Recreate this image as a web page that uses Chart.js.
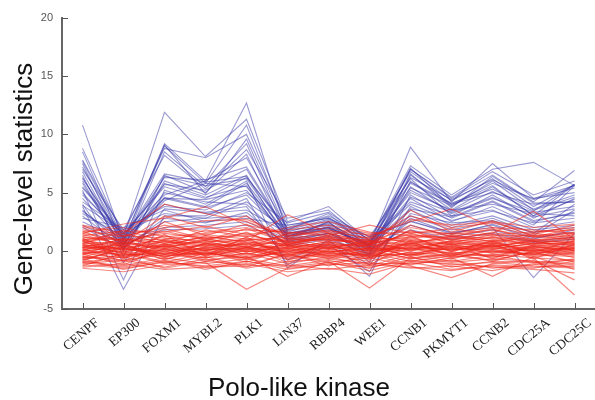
<!DOCTYPE html>
<html>
<head>
<meta charset="utf-8">
<script src="https://cdn.jsdelivr.net/npm/chart.js@4.4.1/dist/chart.umd.min.js"></script>
<style>
  body { margin: 0; background: #fff; }
  #wrap { width: 595px; height: 400px; }
</style>
</head>
<body>
<div id="wrap"><canvas id="myChart" width="595" height="400"></canvas></div>
<script>
// genes along the x axis
var genes = ['CENPF', 'EP300', 'FOXM1', 'MYBL2', 'PLK1', 'LIN37', 'RBBP4', 'WEE1', 'CCNB1', 'PKMYT1', 'CCNB2', 'CDC25A', 'CDC25C'];
var yTicks = [-5, 0, 5, 10, 15, 20];

// blue profiles (one row per line)
var blueLines = [
  [10.8, 0.8, 9.2, 6.0, 12.7, 1.5, 2.0, 0.5, 8.9, 4.2, 7.5, 4.5, 5.6],
  [8.8, 1.2, 11.9, 8.1, 11.3, 2.5, 3.8, 0.8, 7.3, 4.8, 7.0, 7.6, 5.6],
  [8.5, 0.5, 9.0, 5.8, 10.8, 1.8, 3.2, 0.2, 7.0, 4.5, 6.5, 4.2, 6.9],
  [7.8, 1.5, 8.8, 8.0, 10.0, 2.2, 2.8, 1.0, 6.8, 4.3, 6.2, 3.8, 5.7],
  [7.5, 0.2, 8.5, 5.5, 9.2, 1.2, 2.5, -0.5, 6.5, 4.0, 5.8, 4.5, 5.0],
  [7.0, 1.8, 8.2, 5.3, 8.7, 2.8, 3.5, 0.5, 7.1, 3.8, 6.0, 3.5, 4.6],
  [6.5, -0.5, 6.5, 5.0, 8.3, 1.0, 2.0, -1.0, 6.0, 3.5, 5.5, 3.0, 5.7],
  [6.2, 1.0, 6.3, 6.1, 7.2, 1.5, 2.2, 0.3, 5.8, 4.0, 5.0, 4.0, 4.2],
  [6.0, 0.0, 6.0, 4.8, 6.5, 0.8, 1.5, -0.3, 5.5, 3.2, 4.5, 3.3, 3.8],
  [5.5, 1.5, 5.5, 4.5, 6.3, 2.0, 3.0, 1.2, 6.2, 3.0, 4.8, 2.8, 4.5],
  [5.2, -2.5, 5.2, 4.0, 6.0, -1.5, 1.0, -2.2, 4.8, 2.8, 4.2, 2.5, 3.3],
  [5.0, 1.0, 4.6, 3.8, 5.8, 1.3, 1.8, 0.6, 5.0, 3.5, 4.0, 3.2, 3.0],
  [4.5, 0.6, 4.3, 5.8, 5.5, 1.0, 2.5, 0.0, 4.5, 2.5, 3.8, 2.2, 5.6],
  [4.2, 1.8, 3.8, 3.5, 5.0, 2.4, 3.3, 0.9, 4.2, 3.0, 3.5, 2.0, 2.5],
  [3.8, -3.3, 3.0, 3.0, 4.5, -1.2, 0.5, -1.8, 3.8, 2.2, 3.0, 1.8, 2.2],
  [3.5, 0.5, 5.0, 4.2, 4.0, 0.8, 1.5, 0.2, 3.5, 2.0, 2.8, 1.5, 4.0],
  [3.2, 1.2, 4.0, 3.2, 3.5, 1.5, 2.0, 0.5, 3.0, 1.8, 2.5, 1.3, 3.5],
  [3.0, 0.3, 2.5, 2.8, 3.0, 0.5, 1.2, -0.5, 2.8, 1.5, 2.2, 1.0, 1.8],
  [2.8, 2.0, 3.5, 2.5, 2.8, 2.2, 2.8, 1.2, 2.5, 1.6, 2.0, -2.3, 1.5],
  [2.5, 0.8, 2.0, 2.2, 2.5, 1.0, 1.5, 0.0, 2.2, 1.2, 1.8, 0.8, 1.2],
  [6.8, 0.4, 6.4, 5.6, 6.2, 1.2, 2.4, 0.4, 7.0, 4.6, 6.8, 4.8, 6.0],
  [7.2, 0.9, 9.1, 4.9, 9.6, 1.6, 2.6, 0.7, 5.9, 4.1, 5.3, 3.6, 4.8],
  [4.8, 1.4, 4.8, 6.0, 8.0, 1.9, 2.9, 0.4, 4.6, 3.3, 4.6, 2.9, 3.6],
  [5.8, 0.1, 5.8, 4.6, 5.6, 0.9, 1.7, -0.2, 6.6, 3.7, 6.4, 4.1, 4.2],
  [3.9, 1.6, 3.2, 2.8, 4.2, 1.8, 2.7, 0.8, 4.0, 2.6, 3.4, 2.4, 2.8],
  [2.2, 0.6, 1.8, 1.9, 2.2, 0.7, 1.3, 0.1, 1.8, 1.0, 1.5, 0.7, 1.0],
  [7.7, 1.1, 6.6, 5.9, 6.4, 1.7, 2.3, 0.6, 6.3, 4.4, 6.1, 4.4, 5.4],
  [6.3, 0.7, 4.5, 4.4, 5.2, 1.1, 2.1, 0.2, 5.2, 3.4, 5.1, 3.4, 5.7],
  [4.0, -1.0, 3.6, 3.3, 3.8, -0.8, 0.8, -1.2, 3.2, 2.4, 2.6, 1.6, 2.0],
  [2.0, 0.2, 2.8, 2.4, 3.3, 0.4, 1.0, -0.3, 2.6, 1.4, 2.3, 1.1, 1.6],
  [5.4, 1.3, 5.7, 5.2, 7.0, 1.4, 2.0, 0.3, 5.4, 3.9, 5.6, 3.0, 4.4],
  [3.4, 0.9, 4.5, 3.7, 4.8, 1.3, 1.9, 0.5, 3.6, 2.9, 4.3, 2.6, 3.2]
];

// red profiles, the dense band around zero
var redLines = [
  [0.5, 0.2, 0.8, 0.3, 0.6, 0.1, 0.4, -0.2, 0.7, 0.3, 0.5, 0.2, 0.4],
  [-0.5, -0.8, -0.3, -0.6, -0.2, -0.7, -0.4, -0.9, -0.1, -0.5, -0.3, -0.6, -0.8],
  [1.2, 0.9, 1.5, 1.1, 1.3, 0.8, 1.0, 0.6, 1.4, 1.0, 1.2, 0.9, 1.1],
  [-1.2, -1.5, -1.0, -1.3, -0.9, -1.6, -1.1, -1.4, -0.8, -1.2, -1.0, -1.3, -1.5],
  [0.0, 0.4, -0.2, 0.3, 0.1, 0.5, -0.1, 0.2, 0.0, 0.4, -0.2, 0.3, 0.1],
  [1.8, 1.2, 2.2, 1.6, 2.0, 1.0, 1.5, 0.8, 2.0, 1.4, 1.8, 1.2, 1.6],
  [-0.8, 0.2, -0.5, 0.0, -1.0, 0.3, -0.6, 0.1, -0.7, -0.2, -0.9, 0.0, -0.4],
  [0.8, -0.3, 1.0, 0.5, 0.4, -0.4, 0.6, -0.5, 0.9, 0.2, 0.7, -0.1, 0.9],
  [2.2, 1.5, 4.0, 3.2, 2.5, 1.2, 1.8, 1.0, 3.0, 2.0, 2.4, 1.6, 2.0],
  [1.5, 2.3, 2.8, 3.8, 2.2, 1.5, 2.0, 1.3, 2.5, 3.6, 2.0, 1.8, 1.5],
  [-1.5, -1.8, -1.2, -1.0, -3.3, -1.5, -1.2, -1.0, -1.5, -1.3, -1.7, -1.1, -1.4],
  [0.3, 1.0, 0.5, 1.2, 0.8, 3.1, 1.5, 0.7, 1.0, 0.6, 0.9, 0.5, 0.8],
  [-0.3, -1.2, 0.2, -0.8, -0.5, -2.2, -0.9, -3.2, -0.6, -1.0, -0.7, -0.9, -1.1],
  [0.9, 1.5, 0.6, 1.8, 1.2, 2.0, 2.5, 1.6, 1.3, 1.1, 1.5, 3.4, 1.0],
  [-1.0, -0.5, -1.5, -0.9, -1.2, -0.3, -1.0, -0.6, -1.3, -2.3, -1.1, -0.8, -2.5],
  [0.6, 0.8, 0.3, 0.9, 0.5, 0.9, 0.2, 0.8, 0.4, 0.7, 0.3, 1.0, 0.6],
  [-0.2, -0.6, 0.1, -0.4, 0.0, -0.5, -0.3, -0.7, 0.2, -0.2, 0.0, -0.4, -0.1],
  [1.0, 0.0, 1.3, 0.6, 1.6, 0.2, 0.8, 0.0, 1.8, 0.5, 1.2, 0.4, 0.7],
  [0.2, -0.9, 0.5, -0.3, 0.3, -1.0, 0.0, -1.2, 0.6, -0.4, 0.4, -0.6, -3.8],
  [-0.6, 0.6, -0.8, 0.4, -0.3, 0.5, -0.5, 0.3, -0.4, 0.6, -0.7, 0.4, -0.2],
  [1.4, 0.5, 1.9, 1.0, 1.5, 0.4, 1.2, 0.2, 1.7, 0.9, 1.6, 0.8, 1.3],
  [-0.9, -1.3, -0.6, -1.1, -0.7, -1.3, -0.8, -1.5, -0.5, -1.4, -0.9, -1.0, -1.2],
  [0.4, 0.1, 0.0, 0.2, -0.1, 0.3, 0.5, 0.0, 0.3, 0.1, 0.2, 0.0, 0.3],
  [1.6, 2.0, 1.2, 1.5, 1.8, 1.6, 1.3, 2.2, 1.5, 1.9, 1.4, 1.6, 1.8],
  [-0.1, -0.3, -0.4, -0.2, -0.6, -0.1, -0.2, -0.4, -0.3, -0.1, -0.5, -0.2, 0.0],
  [0.7, 1.3, 1.1, 0.8, 0.9, 1.2, 0.7, 1.0, 1.1, 1.3, 1.0, 0.6, 1.2],
  [-1.3, -0.2, -1.1, -0.5, -1.4, -0.2, -1.3, -0.3, -1.2, -0.6, -2.2, -0.5, -1.6],
  [0.1, 0.6, -0.6, 0.7, -0.4, 0.7, 0.1, 0.5, -0.2, 0.2, 0.1, 0.7, 0.5],
  [1.1, -0.6, 0.9, 0.0, 1.0, -0.2, 0.3, -0.8, 1.2, 0.0, 0.8, -0.3, 0.2],
  [-0.4, 0.9, -0.1, 0.6, 0.2, 1.1, 0.4, 0.6, 0.1, 0.8, 0.3, 0.9, 0.0],
  [2.0, 0.7, 3.0, 2.0, 3.0, 0.6, 1.3, 0.4, 3.5, 1.6, 2.6, 1.2, 1.9],
  [-0.7, -1.6, -0.9, -1.4, -1.1, -1.8, -1.5, -2.0, -1.0, -1.6, -1.3, -1.5, -0.9],
  [0.3, -0.1, 0.6, 0.1, 0.2, 0.0, 0.3, 0.1, 0.5, 0.0, 0.6, 0.1, 0.2],
  [0.9, 0.4, 0.4, 1.3, 0.7, 0.6, 1.1, 0.3, 0.6, 1.2, 0.8, 1.1, 1.4],
  [-0.2, 0.0, -0.7, -0.1, -0.8, 0.1, -0.4, -0.1, -0.6, -0.3, -0.4, 0.2, -0.6],
  [1.3, 1.7, 1.6, 2.1, 1.4, 1.8, 2.2, 1.5, 1.6, 1.5, 2.0, 1.4, 2.2],
  [-1.1, -0.8, -1.4, -0.7, -1.5, -0.9, -0.7, -1.1, -1.1, -0.8, -1.5, -1.2, -0.7],
  [0.5, -0.5, 0.2, -0.2, 0.4, -0.6, -0.2, -0.3, 0.3, -0.6, 0.0, -0.3, 0.5],
  [0.0, 1.1, 0.3, 1.0, 0.6, 1.4, 0.9, 1.2, 0.8, 1.0, 0.6, 1.3, 0.9],
  [1.7, 0.3, 2.5, 1.3, 2.3, 0.5, 1.4, 0.6, 2.2, 1.2, 1.9, 0.9, 1.4],
  [-0.5, -1.0, 0.0, -0.9, -0.2, -1.1, -0.5, -1.3, -0.3, -0.9, -0.4, -1.0, -0.8],
  [0.2, 0.5, 0.9, 0.4, 1.1, 0.4, 0.6, 0.4, 0.9, 0.5, 0.7, 0.3, 0.6],
  [-0.9, 0.4, -0.3, 0.2, -0.5, 0.2, -0.2, 0.5, -0.5, 0.3, -0.6, 0.5, 0.2],
  [1.0, 1.0, 0.7, 0.7, 0.3, 0.9, 1.2, 0.9, 0.5, 0.8, 1.1, 0.8, 0.4],
  [0.6, -0.2, 1.4, -0.5, 0.9, -0.3, 0.2, -0.4, 1.3, -0.1, 0.9, -0.2, 0.3],
  [-1.4, -1.1, -1.6, -1.4, -1.3, -1.2, -1.6, -1.2, -1.4, -1.7, -1.2, -1.4, -1.3],
  [0.4, 0.7, 0.1, 0.5, 0.0, 0.8, 0.3, 0.7, 0.1, 0.5, 0.2, 0.6, 0.7],
  [-0.3, 0.3, -0.5, 0.1, -0.7, 0.4, -0.1, 0.2, -0.4, 0.4, -0.2, 0.1, -0.3],
  [2.1, 1.3, 2.0, 2.6, 2.7, 1.3, 1.6, 1.1, 2.7, 2.2, 2.5, 2.0, 2.3],
  [0.8, 0.1, 0.4, 0.0, 0.7, -0.1, 0.7, -0.1, 0.4, 0.1, 0.4, 0.0, 0.1],
  [-0.7, -0.4, -0.2, -0.3, 0.1, -0.4, 0.0, -0.5, -0.2, -0.7, 0.1, -0.3, -0.5],
  [1.5, 0.9, 1.0, 1.4, 1.0, 1.0, 0.9, 0.8, 1.2, 1.5, 1.3, 1.3, 1.5],
  [0.1, -0.4, 0.4, -0.6, 0.3, -0.5, 0.6, -0.6, 0.7, -0.3, 0.5, -0.5, -0.2],
  [-0.2, 0.7, 0.2, 0.9, -0.1, 0.6, 0.2, 0.9, 0.0, 0.9, 0.4, 0.8, 0.8],
  [1.2, 0.6, 1.7, 0.9, 1.9, 0.7, 1.1, 0.5, 1.5, 0.7, 1.4, 0.6, 1.0],
  [-1.0, -1.4, -0.8, -1.6, -0.9, -1.4, -1.0, -1.7, -0.9, -1.1, -1.4, -1.6, -1.9],
  [0.3, 0.2, -0.3, 0.6, 0.5, 0.2, 0.8, 0.2, 0.2, 0.6, -0.1, 0.4, 0.0],
  [0.6, 1.8, 0.8, 1.1, 0.3, 1.5, 1.7, 1.4, 0.6, 1.3, 0.8, 1.5, 1.1],
  [-0.6, -0.1, -1.0, -0.2, -0.6, 0.0, -0.7, -0.2, -0.9, -0.4, -0.8, -0.1, -1.0],
  [0.9, -0.7, 0.6, -0.4, 1.2, -0.8, 0.1, -0.6, 0.8, -0.5, 0.6, -0.7, 0.6]
];

var blueColor = 'rgba(55, 55, 170, 0.5)';
var redColor = 'rgba(238, 38, 28, 0.55)';

// inward tick marks and the two axis titles
var axisExtras = {
    id: 'axisExtras',
    afterDraw: function(chart) {
        var ctx = chart.ctx;
        var area = chart.chartArea;
        var x = chart.scales.x, y = chart.scales.y;
        ctx.save();
        ctx.strokeStyle = '#555';
        ctx.lineWidth = 1;
        y.ticks.forEach(function(t, i) {
            var py = Math.round(y.getPixelForTick(i)) + 0.5;
            ctx.beginPath();
            ctx.moveTo(area.left, py);
            ctx.lineTo(area.left + 6, py);
            ctx.stroke();
        });
        x.ticks.forEach(function(t, i) {
            var px = Math.round(x.getPixelForTick(i)) + 0.5;
            ctx.beginPath();
            ctx.moveTo(px, area.bottom);
            ctx.lineTo(px, area.bottom - 6);
            ctx.stroke();
        });
        ctx.fillStyle = '#111';
        ctx.font = '26px "Liberation Sans", Arial, sans-serif';
        ctx.textAlign = 'center';
        ctx.textBaseline = 'alphabetic';
        ctx.fillText('Polo-like kinase', 299, 396);
        ctx.translate(32, 179);
        ctx.rotate(-Math.PI / 2);
        ctx.fillText('Gene-level statistics', 0, 0);
        ctx.restore();
    }
};

window.onload = function() {
    var datasets = [];
    redLines.forEach(function(vals) {
        datasets.push({ data: vals, borderColor: redColor, borderWidth: 1.2, pointRadius: 0, order: 0 });
    });
    blueLines.forEach(function(vals) {
        datasets.push({ data: vals, borderColor: blueColor, borderWidth: 1.1, pointRadius: 0, order: 1 });
    });

    var ctx = document.getElementById('myChart').getContext('2d');
    var myChart = new Chart(ctx, {
        type: 'line',
        data: { labels: genes, datasets: datasets },
        plugins: [axisExtras],
        options: {
            responsive: false,
            animation: false,
            layout: { padding: { top: 18, right: 0, left: 0, bottom: 0 } },
            plugins: { legend: { display: false }, tooltip: { enabled: false } },
            elements: { line: { tension: 0 } },
            scales: {
                x: {
                    type: 'category',
                    offset: true,
                    grid: { display: true, drawOnChartArea: false, drawTicks: false },
                    border: { color: '#666', width: 2 },
                    ticks: {
                        autoSkip: false,
                        minRotation: 40,
                        maxRotation: 40,
                        padding: 6,
                        labelOffset: 15,
                        color: '#222',
                        font: { family: '"Liberation Serif", "Times New Roman", serif', size: 13.5 }
                    },
                    afterFit: function(scale) { scale.height = 91; }
                },
                y: {
                    min: -5,
                    max: 20,
                    grid: { display: true, drawOnChartArea: false, drawTicks: false },
                    border: { color: '#666', width: 2 },
                    afterBuildTicks: function(scale) {
                        scale.ticks = yTicks.map(function(v) { return { value: v }; });
                    },
                    ticks: {
                        padding: 9,
                        color: '#555',
                        font: { family: '"Liberation Sans", Arial, sans-serif', size: 11 }
                    },
                    afterFit: function(scale) { scale.width = 62; }
                }
            }
        }
    });
};
</script>
</body>
</html>
